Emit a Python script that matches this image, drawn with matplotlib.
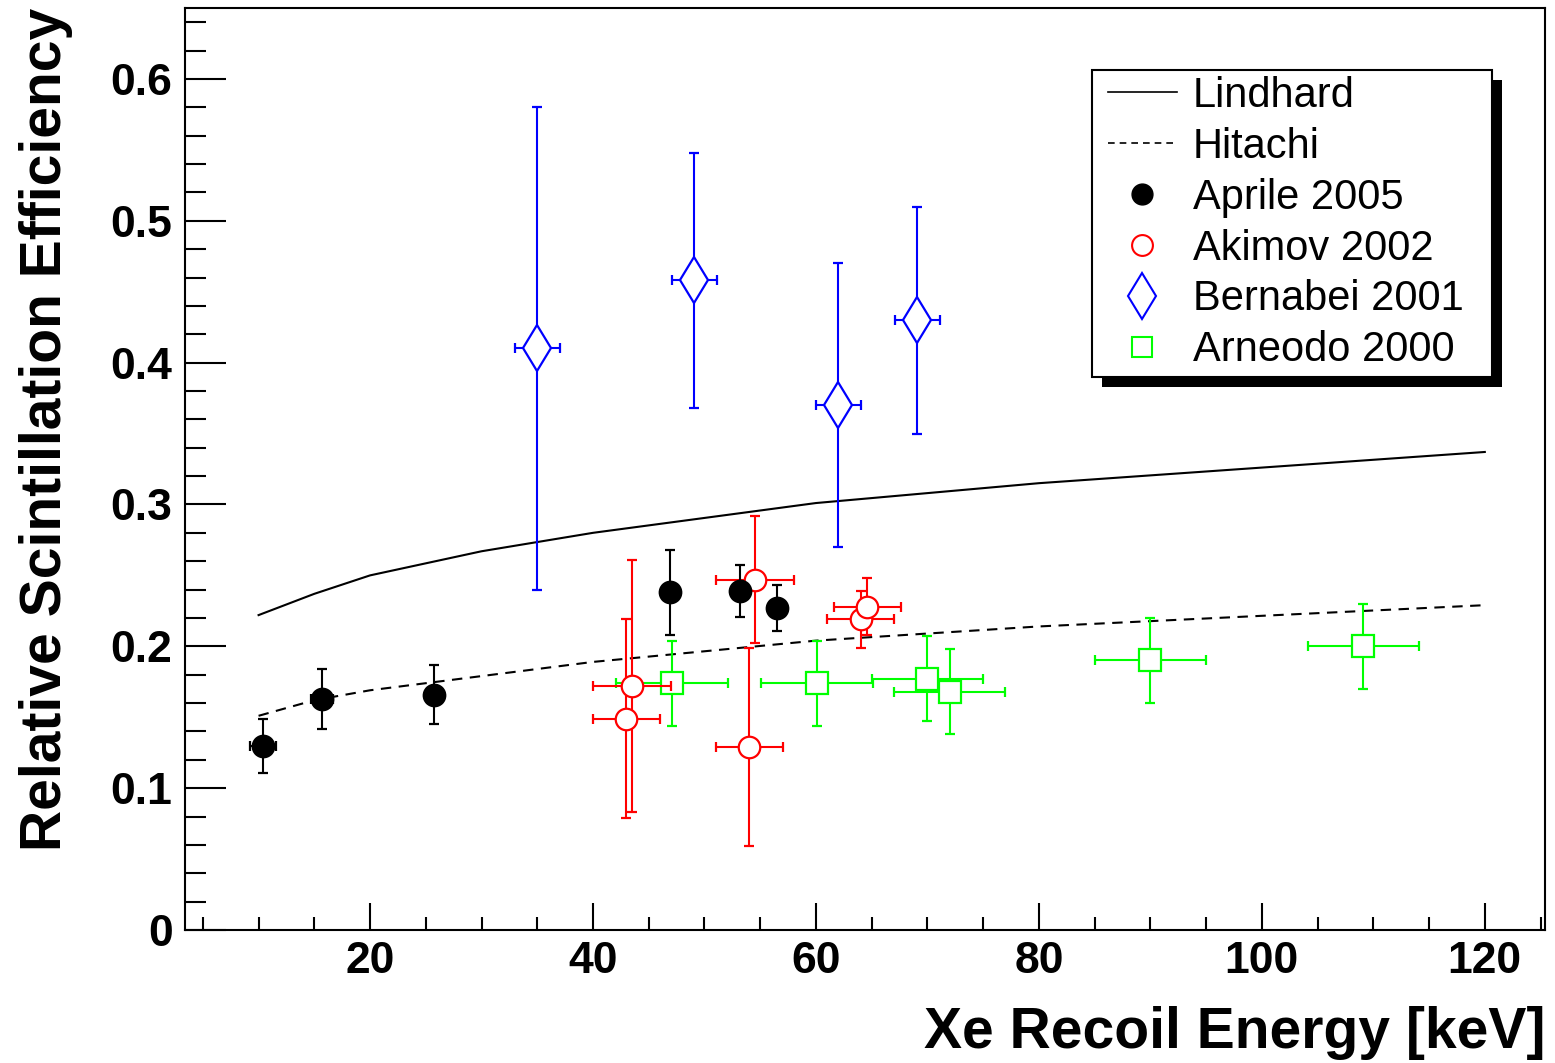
import matplotlib
matplotlib.use("Agg")
import matplotlib.pyplot as plt
from matplotlib.lines import Line2D
from matplotlib.patches import Rectangle
from matplotlib.ticker import MultipleLocator

plt.rcParams['font.family'] = ['Liberation Sans', 'DejaVu Sans']

# model curves
lindhard_x = [10, 15, 20, 30, 40, 60, 80, 120]
lindhard_y = [0.222, 0.237, 0.250, 0.267, 0.280, 0.301, 0.315, 0.337]
hitachi_x = [10, 15, 20, 30, 40, 60, 80, 120]
hitachi_y = [0.151, 0.162, 0.169, 0.179, 0.189, 0.204, 0.214, 0.229]

# measurements
aprile_x = [10.4, 15.7, 25.7, 46.9, 53.2, 56.5]
aprile_y = [0.130, 0.163, 0.166, 0.238, 0.239, 0.227]
aprile_xerr = [1.2, 1.0, 0.0, 0.0, 0.0, 0.0]
aprile_yerr = [0.019, 0.021, 0.021, 0.030, 0.018, 0.016]

akimov_x = [43.0, 43.5, 54.0, 54.5, 64.0, 64.6]
akimov_y = [0.149, 0.172, 0.129, 0.247, 0.219, 0.228]
akimov_xerr = [3.0, 3.5, 3.0, 3.5, 3.0, 3.0]
akimov_yerr = [0.070, 0.089, 0.070, 0.045, 0.020, 0.020]

bernabei_x = [35.0, 49.1, 62.0, 69.1]
bernabei_y = [0.410, 0.458, 0.370, 0.430]
bernabei_xerr = [2.0, 2.0, 2.0, 2.0]
bernabei_yerr = [0.170, 0.090, 0.100, 0.080]

arneodo_x = [47.1, 60.1, 70.0, 72.0, 90.0, 109.1]
arneodo_y = [0.174, 0.174, 0.177, 0.168, 0.190, 0.200]
arneodo_xerr = [5.0, 5.0, 5.0, 5.0, 5.0, 5.0]
arneodo_yerr = [0.030, 0.030, 0.030, 0.030, 0.030, 0.030]

W, H = 1555, 1063
fig = plt.figure(figsize=(W / 100, H / 100), dpi=100)
ax = fig.add_axes([185 / W, 133 / H, 1360 / W, 922 / H])

ax.plot(lindhard_x, lindhard_y, color='black', lw=1.5, zorder=2)
ax.plot(hitachi_x, hitachi_y, color='black', lw=1.5, dashes=(5, 3.6), zorder=2)

ekw = dict(linestyle='none', elinewidth=1.5, capsize=3.5, capthick=1.5, markersize=15.5, markeredgewidth=1.6)
ax.errorbar(arneodo_x, arneodo_y, xerr=arneodo_xerr, yerr=arneodo_yerr, fmt='s',
            color='#00ff00', mfc='white', zorder=3, **ekw)
ax.errorbar(akimov_x, akimov_y, xerr=akimov_xerr, yerr=akimov_yerr, fmt='o',
            color='red', mfc='white', zorder=4, **ekw)
ax.errorbar(aprile_x, aprile_y, xerr=aprile_xerr, yerr=aprile_yerr, fmt='o',
            color='black', zorder=5, **ekw)
ekw_b = dict(ekw)
ekw_b['markersize'] = 23
ax.errorbar(bernabei_x, bernabei_y, xerr=bernabei_xerr, yerr=bernabei_yerr, fmt='d',
            color='blue', mfc='white', zorder=4, **ekw_b)

ax.set_xlim(3.4, 125.4)
ax.set_ylim(0, 0.65)
ax.xaxis.set_minor_locator(MultipleLocator(5))
ax.yaxis.set_minor_locator(MultipleLocator(0.02))
ax.set_yticks([0, 0.1, 0.2, 0.3, 0.4, 0.5, 0.6])
ax.set_yticklabels(['0', '0.1', '0.2', '0.3', '0.4', '0.5', '0.6'])
ax.set_xticks([20, 40, 60, 80, 100, 120])
ax.set_xticklabels(['20', '40', '60', '80', '100', '120'])

for s in ax.spines.values():
    s.set_linewidth(1.5)
ax.tick_params(axis='y', which='major', direction='in', length=29.5, width=1.5, pad=9)
ax.tick_params(axis='y', which='minor', direction='in', length=15, width=1.5)
ax.tick_params(axis='x', which='major', direction='in', length=19.5, width=1.5, pad=8)
ax.tick_params(axis='x', which='minor', direction='in', length=9.7, width=1.5)
for lab in ax.get_xticklabels() + ax.get_yticklabels():
    lab.set_fontsize(32)
    lab.set_fontweight('bold')

ax.set_xlabel('Xe Recoil Energy [keV]', fontsize=41, fontweight='bold', loc='right')
ax.set_ylabel('Relative Scintillation Efficiency', fontsize=41, fontweight='bold', loc='top')
ax.xaxis.set_label_coords(1.0, -0.082)
ax.yaxis.set_label_coords(-0.082, 1.0)

# legend box with shadow
bx0, by0 = (1092 - 185) / 1360, (930 - 377) / 922
bw, bh = 400 / 1360, 307 / 922
ax.add_patch(Rectangle((bx0 + 10 / 1360, by0 - 10 / 922), bw, bh, transform=ax.transAxes,
                       fc='black', ec='black', lw=0, zorder=8, clip_on=False))
ax.add_patch(Rectangle((bx0, by0), bw, bh, transform=ax.transAxes,
                       fc='white', ec='black', lw=1.5, zorder=9, clip_on=False))

handles = [
    Line2D([], [], color='black', lw=1.2),
    Line2D([], [], color='black', lw=1.2, dashes=(4, 3)),
    Line2D([], [], color='black', marker='o', ls='none', markersize=15),
    Line2D([], [], color='red', marker='o', ls='none', markersize=15, mfc='none', mew=1.5),
    Line2D([], [], color='blue', marker='d', ls='none', markersize=23, mfc='none', mew=1.5),
    Line2D([], [], color='#00ff00', marker='s', ls='none', markersize=15, mfc='none', mew=1.5),
]
labels = ['Lindhard', 'Hitachi', 'Aprile 2005', 'Akimov 2002', 'Bernabei 2001', 'Arneodo 2000']
leg = ax.legend(handles, labels, loc='upper left', bbox_to_anchor=((1108 - 185) / 1360, (930 - 76) / 922),
                frameon=False, fontsize=30, borderpad=0, borderaxespad=0, handlelength=1.65,
                handletextpad=0.38, labelspacing=0.26)
leg.set_zorder(10)

fig.savefig('out.png', dpi=100)
